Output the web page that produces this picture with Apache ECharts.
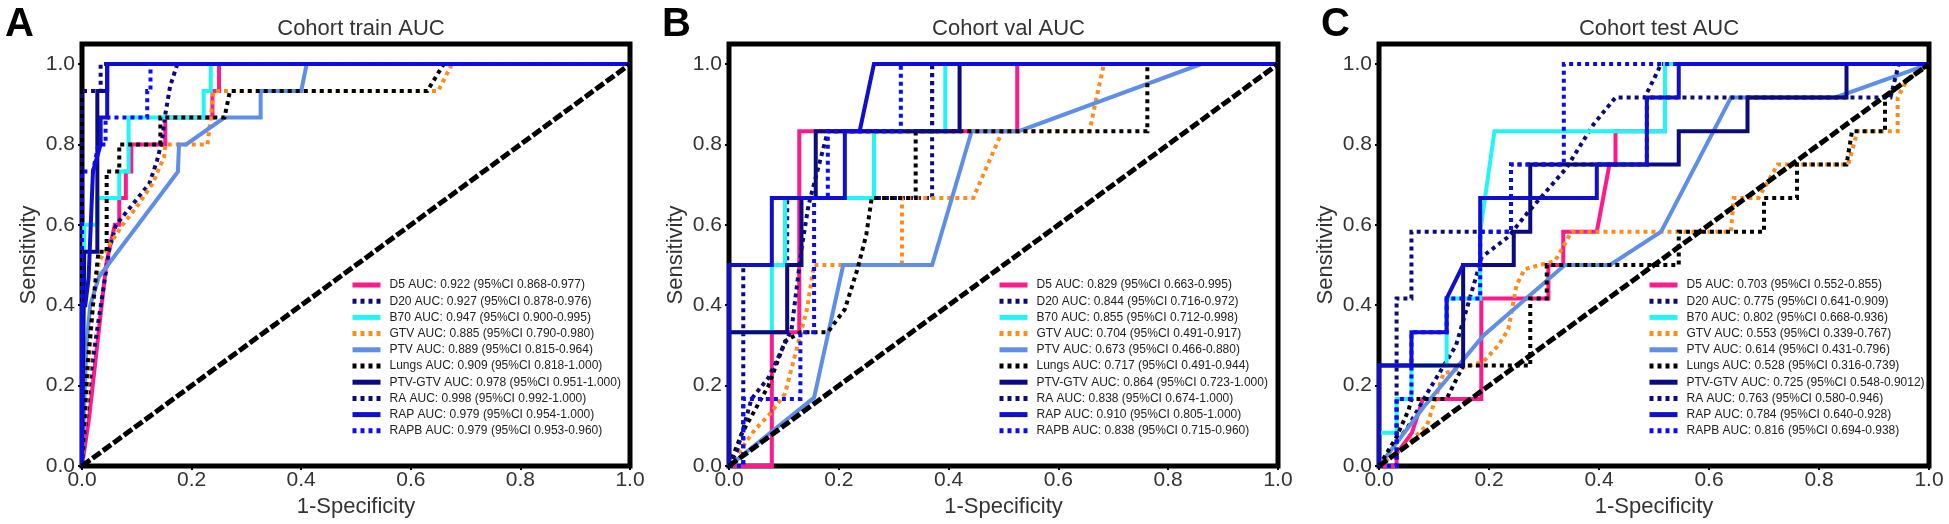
<!DOCTYPE html>
<html><head><meta charset="utf-8">
<script src="https://cdn.jsdelivr.net/npm/echarts@6/dist/echarts.min.js"></script>
<style>html,body{margin:0;padding:0;background:#fff}#c{width:1949px;height:524px}</style>
</head><body><div id="c"></div>
<script>
// ---------- data ----------
const models = ['D5','D20','B70','GTV','PTV','Lungs','PTV-GTV','RA','RAP','RAPB'];
const panelTitles = ['Cohort train AUC','Cohort val AUC','Cohort test AUC'];
const panelLetters = ['A','B','C'];
const xTickValues = [0,0.2,0.4,0.6,0.8,1.0];
const yTickValues = [0,0.2,0.4,0.6,0.8,1.0];

const trainAUC = ['0.922','0.927','0.947','0.885','0.889','0.909','0.978','0.998','0.979','0.979'];
const trainCI  = ['0.868-0.977','0.878-0.976','0.900-0.995','0.790-0.980','0.815-0.964','0.818-1.000','0.951-1.000','0.992-1.000','0.954-1.000','0.953-0.960'];
const valAUC   = ['0.829','0.844','0.855','0.704','0.673','0.717','0.864','0.838','0.910','0.838'];
const valCI    = ['0.663-0.995','0.716-0.972','0.712-0.998','0.491-0.917','0.466-0.880','0.491-0.944','0.723-1.000','0.674-1.000','0.805-1.000','0.715-0.960'];
const testAUC  = ['0.703','0.775','0.802','0.553','0.614','0.528','0.725','0.763','0.784','0.816'];
const testCI   = ['0.552-0.855','0.641-0.909','0.668-0.936','0.339-0.767','0.431-0.796','0.316-0.739','0.548-0.9012','0.580-0.946','0.640-0.928','0.694-0.938'];

// Cohort train ROC points [1-specificity, sensitivity]
const trainD5 = [[0,0],[0.013,0.12],[0.044,0.5],[0.05,0.54],[0.06,0.6],[0.068,0.6],[0.068,0.667],[0.08,0.667],[0.08,0.733],[0.09,0.733],[0.09,0.8],[0.152,0.8],[0.152,0.867],[0.238,0.867],[0.238,0.933],[0.25,0.933],[0.25,1],[1,1]];
const trainD20 = [[0,0],[0.013,0.2],[0.031,0.37],[0.04,0.45],[0.05,0.54],[0.062,0.6],[0.086,0.64],[0.123,0.703],[0.137,0.76],[0.146,0.81],[0.152,0.875],[0.161,0.946],[0.174,1],[1,1]];
const trainB70 = [[0,0],[0.004,0.533],[0.004,0.6],[0.028,0.6],[0.028,0.667],[0.068,0.667],[0.068,0.733],[0.085,0.733],[0.085,0.867],[0.222,0.867],[0.222,0.933],[0.235,0.933],[0.235,1],[1,1]];
const trainGTV = [[0,0],[0.014,0.28],[0.02,0.4],[0.031,0.51],[0.05,0.55],[0.074,0.6],[0.1,0.645],[0.129,0.703],[0.15,0.77],[0.152,0.8],[0.229,0.8],[0.235,0.867],[0.24,0.933],[0.65,0.933],[0.675,1],[1,1]];
const trainPTV = [[0,0],[0.008,0.3],[0.015,0.4],[0.031,0.471],[0.175,0.732],[0.177,0.8],[0.19,0.8],[0.26,0.867],[0.326,0.867],[0.326,0.933],[0.4,0.933],[0.41,1],[1,1]];
const trainLungs = [[0,0],[0.01,0.25],[0.02,0.4],[0.03,0.533],[0.045,0.533],[0.045,0.733],[0.068,0.733],[0.068,0.8],[0.143,0.8],[0.143,0.867],[0.26,0.867],[0.27,0.933],[0.63,0.933],[0.66,1],[1,1]];
const trainPTVGTV = [[0,0],[0.004,0.533],[0.028,0.533],[0.028,0.933],[0.046,0.933],[0.046,1],[1,1]];
const trainRA = [[0,0],[0,0.933],[0.034,0.933],[0.034,1],[1,1]];
const trainRAP = [[0,0],[0,0.4],[0.006,0.4],[0.012,0.467],[0.02,0.733],[0.034,0.8],[0.034,0.867],[0.046,0.867],[0.046,1],[1,1]];
const trainRAPB = [[0,0],[0,0.733],[0.02,0.733],[0.03,0.8],[0.043,0.8],[0.043,0.867],[0.119,0.867],[0.119,0.933],[0.125,0.933],[0.125,1],[1,1]];

// Cohort val ROC points
const valD5 = [[0,0],[0.078,0],[0.078,0.333],[0.128,0.333],[0.128,0.833],[0.525,0.833],[0.525,1],[1,1]];
const valD20 = [[0,0],[0.026,0],[0.026,0.5],[0.106,0.5],[0.106,0.667],[0.37,0.667],[0.37,1],[1,1]];
const valB70 = [[0,0],[0,0.333],[0.078,0.333],[0.078,0.5],[0.102,0.5],[0.102,0.667],[0.264,0.667],[0.264,0.833],[0.394,0.833],[0.394,1],[1,1]];
const valGTV = [[0,0],[0.047,0.09],[0.075,0.13],[0.102,0.18],[0.123,0.29],[0.142,0.39],[0.15,0.46],[0.155,0.5],[0.315,0.5],[0.315,0.667],[0.445,0.667],[0.468,0.74],[0.498,0.833],[0.657,0.833],[0.668,0.908],[0.683,1],[1,1]];
const valPTV = [[0,0],[0.155,0.17],[0.208,0.5],[0.37,0.5],[0.442,0.833],[0.528,0.833],[0.86,1],[1,1]];
const valLungs = [[0,0],[0.023,0.08],[0.072,0.2],[0.102,0.31],[0.13,0.333],[0.18,0.333],[0.211,0.39],[0.234,0.49],[0.25,0.575],[0.26,0.667],[0.34,0.667],[0.34,0.833],[0.762,0.833],[0.762,1],[1,1]];
const valPTVGTV = [[0,0],[0,0.333],[0.106,0.333],[0.106,0.5],[0.132,0.5],[0.132,0.667],[0.158,0.667],[0.158,0.833],[0.42,0.833],[0.42,1],[1,1]];
const valRA = [[0,0],[0.015,0.04],[0.041,0.167],[0.072,0.22],[0.114,0.34],[0.132,0.54],[0.145,0.65],[0.166,0.76],[0.18,0.833],[0.37,0.833],[0.37,1],[1,1]];
const valRAP = [[0,0],[0,0.5],[0.078,0.5],[0.078,0.667],[0.211,0.667],[0.211,0.833],[0.238,0.833],[0.264,1],[1,1]];
const valRAPB = [[0,0],[0.026,0],[0.026,0.167],[0.13,0.167],[0.13,0.333],[0.155,0.333],[0.155,0.667],[0.18,0.667],[0.18,0.833],[0.313,0.833],[0.313,1],[1,1]];

// Cohort test ROC points
const testD5 = [[0,0],[0.032,0],[0.032,0.03],[0.06,0.083],[0.08,0.167],[0.186,0.167],[0.186,0.417],[0.308,0.417],[0.308,0.5],[0.335,0.5],[0.335,0.583],[0.396,0.583],[0.419,0.75],[0.43,0.75],[0.43,0.833],[0.52,0.833],[0.52,1],[1,1]];
const testD20 = [[0,0],[0.054,0.1],[0.087,0.18],[0.14,0.3],[0.187,0.52],[0.235,0.57],[0.27,0.63],[0.34,0.74],[0.39,0.85],[0.43,0.917],[0.483,0.917],[0.498,0.958],[0.513,1],[1,1]];
const testB70 = [[0,0],[0,0.083],[0.032,0.083],[0.032,0.167],[0.059,0.167],[0.059,0.25],[0.123,0.25],[0.123,0.417],[0.184,0.417],[0.184,0.583],[0.21,0.833],[0.52,0.833],[0.52,1],[1,1]];
const testGTV = [[0,0],[0.047,0.05],[0.087,0.1],[0.117,0.23],[0.19,0.26],[0.217,0.3],[0.235,0.34],[0.244,0.405],[0.25,0.45],[0.265,0.49],[0.32,0.51],[0.35,0.583],[0.64,0.583],[0.645,0.667],[0.69,0.667],[0.725,0.75],[0.853,0.75],[0.87,0.833],[0.943,0.833],[0.943,0.917],[0.96,0.96],[1,1]];
const testPTV = [[0,0],[0.083,0.15],[0.19,0.325],[0.338,0.5],[0.42,0.5],[0.513,0.583],[0.64,0.917],[0.83,0.917],[1,1]];
const testLungs = [[0,0],[0.031,0.07],[0.054,0.14],[0.059,0.167],[0.123,0.167],[0.153,0.25],[0.275,0.25],[0.275,0.417],[0.305,0.417],[0.305,0.5],[0.545,0.5],[0.545,0.583],[0.7,0.583],[0.7,0.667],[0.76,0.667],[0.76,0.75],[0.85,0.75],[0.86,0.833],[0.92,0.833],[0.92,0.917],[0.95,0.95],[1,1]];
const testPTVGTV = [[0,0],[0,0.25],[0.153,0.25],[0.153,0.5],[0.245,0.5],[0.245,0.583],[0.275,0.583],[0.275,0.75],[0.545,0.75],[0.545,0.833],[0.67,0.833],[0.67,0.917],[0.85,0.917],[0.85,1],[1,1]];
const testRA = [[0,0],[0.032,0],[0.032,0.417],[0.059,0.417],[0.059,0.583],[0.24,0.583],[0.24,0.75],[0.487,0.75],[0.487,0.917],[0.93,0.917],[0.945,1],[1,1]];
const testRAP = [[0,0],[0,0.25],[0.059,0.25],[0.059,0.333],[0.123,0.333],[0.123,0.417],[0.153,0.5],[0.184,0.5],[0.184,0.667],[0.396,0.667],[0.396,0.75],[0.487,0.75],[0.487,0.917],[0.545,0.917],[0.545,1],[1,1]];
const testRAPB = [[0,0],[0.032,0],[0.032,0.167],[0.059,0.167],[0.059,0.333],[0.123,0.333],[0.123,0.417],[0.184,0.417],[0.184,0.583],[0.24,0.583],[0.24,0.75],[0.336,0.75],[0.336,1],[1,1]];

const diagonal = [[0,0],[1,1]];

// ---------- assembly ----------
const panelCurves = [
  [trainD5,trainD20,trainB70,trainGTV,trainPTV,trainLungs,trainPTVGTV,trainRA,trainRAP,trainRAPB],
  [valD5,valD20,valB70,valGTV,valPTV,valLungs,valPTVGTV,valRA,valRAP,valRAPB],
  [testD5,testD20,testB70,testGTV,testPTV,testLungs,testPTVGTV,testRA,testRAP,testRAPB]
];
const panelAUC = [trainAUC, valAUC, testAUC];
const panelCI = [trainCI, valCI, testCI];

const DOT = [4,4];
const styles = {
  'D5':     {color:'#ff1a8c', type:'solid'},
  'D20':    {color:'#0a0a78', type:DOT},
  'B70':    {color:'#22f5f5', type:'solid'},
  'GTV':    {color:'#ff8c1a', type:DOT},
  'PTV':    {color:'#5f8ee6', type:'solid'},
  'Lungs':  {color:'#000000', type:DOT},
  'PTV-GTV':{color:'#0b0b80', type:'solid'},
  'RA':     {color:'#0d0d7a', type:DOT},
  'RAP':    {color:'#1010cc', type:'solid'},
  'RAPB':   {color:'#0a0aff', type:DOT}
};

const FONT = 'Liberation Sans, Arial, Helvetica, sans-serif';
const gridBoxes = [
  {left:82, top:44, width:548, height:422},
  {left:729, top:44, width:549, height:422},
  {left:1379, top:44, width:550, height:422}
];
const letterPos = [5, 662, 1321];

const grids = [], xAxes = [], yAxes = [], series = [], legends = [], titles = [], graphics = [];
gridBoxes.forEach((g, p) => {
  grids.push(Object.assign({show:true, borderColor:'#000', borderWidth:5, backgroundColor:'#fff'}, g));
  xAxes.push({
    gridIndex:p, type:'value', min:0, max:1, interval:0.2,
    axisLine:{show:false}, splitLine:{show:false},
    axisTick:{show:true, length:4, lineStyle:{color:'#000', width:2}, customValues:xTickValues},
    axisLabel:{fontSize:21, color:'#333', fontFamily:FONT, margin:4, customValues:xTickValues, formatter:v=>v.toFixed(1)},
    name:'1-Specificity', nameLocation:'middle', nameGap:26,
    nameTextStyle:{fontSize:22, color:'#333', fontFamily:FONT}
  });
  yAxes.push({
    gridIndex:p, type:'value', min:0, max:1.05,
    axisLine:{show:false}, splitLine:{show:false},
    axisTick:{show:true, length:4, lineStyle:{color:'#000', width:2}, customValues:yTickValues},
    axisLabel:{fontSize:21, color:'#333', fontFamily:FONT, margin:7, customValues:yTickValues, formatter:v=>v.toFixed(1)},
    name:'Sensitivity', nameLocation:'middle', nameGap:42,
    nameTextStyle:{fontSize:22, color:'#333', fontFamily:FONT}
  });
  const names = [];
  models.forEach((m, k) => {
    const nm = `${m} AUC: ${panelAUC[p][k]} (95%CI ${panelCI[p][k]})`;
    names.push(nm);
    series.push({
      type:'line', name:nm, xAxisIndex:p, yAxisIndex:p,
      data:panelCurves[p][k], symbol:'none', silent:true, animation:false,
      lineStyle:{color:styles[m].color, width:4, type:styles[m].type, cap:'butt', join:'miter'},
      itemStyle:{color:styles[m].color}
    });
  });
  series.push({
    type:'line', name:'ref'+p, xAxisIndex:p, yAxisIndex:p, data:diagonal, symbol:'none', silent:true, animation:false,
    lineStyle:{color:'#000', width:5, type:[10,3]}, z:3
  });
  legends.push({
    orient:'vertical', left:g.left+268, top:279, itemWidth:28, itemHeight:14, itemGap:4.2, padding:0,
    selectedMode:false, data:names,
    itemStyle:{opacity:0}, lineStyle:{width:5},
    textStyle:{fontSize:12, color:'#222', fontFamily:FONT, padding:[0,0,0,4]}
  });
  titles.push({
    text:panelTitles[p], left:g.left + g.width/2, top:13, textAlign:'center',
    textStyle:{fontSize:22, fontWeight:'normal', color:'#333', fontFamily:FONT}
  });
  graphics.push({
    type:'text', left:letterPos[p], top:5,
    style:{text:panelLetters[p], font:'bold 40px ' + FONT, fill:'#000'}
  });
});

const chart = echarts.init(document.getElementById('c'), null, {renderer:'canvas'});
chart.setOption({
  animation:false, backgroundColor:'#fff',
  title:titles, grid:grids, xAxis:xAxes, yAxis:yAxes, legend:legends, series:series, graphic:graphics
});
</script></body></html>
